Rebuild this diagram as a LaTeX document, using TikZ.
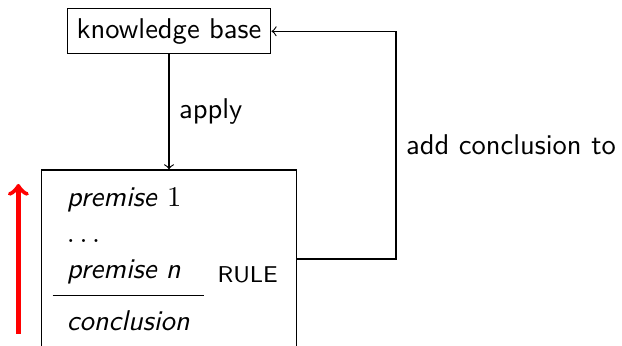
\documentclass[tikz,border=0pt]{standalone}
\renewcommand{\familydefault}{\sfdefault}
\usetikzlibrary{positioning}

\begin{document}
\begin{tikzpicture}

\useasboundingbox (0,0) rectangle (7.651,4.256);

\node [draw] (kb) at (2.079,3.871) {knowledge base};
\node [draw, minimum width=3.137cm, minimum height=2.19cm] (rule) at (2.079,1.070) {};
\node [anchor=north west, inner sep=0pt] (premises) at (0.640,2.030) {%
  \setlength{\tabcolsep}{5pt}%
  \renewcommand{\arraystretch}{1.05}%
  \begin{tabular}{l}
  \textit{premise} $1$\\
  $\ldots$\\
  \textit{premise n}\\[2pt]
  \hline
  \rule{0pt}{12pt}\textit{conclusion}
  \end{tabular}};
\node [anchor=base west, font=\footnotesize] (rulename) at (2.552,0.787) {RULE};

\draw [->] (kb) -- node [right] {apply} (rule);

\coordinate (turn) at (4.871,1.070);
\draw [->] (rule.east) -- (turn) -- node [right] {add conclusion to} (turn |- kb.east) -- (kb.east);

\coordinate (low) at (0.226,0.148);
\coordinate (high) at (0.226,1.993);
\draw [->, ultra thick, red] (low) -- (high);

\end{tikzpicture}
\end{document}
